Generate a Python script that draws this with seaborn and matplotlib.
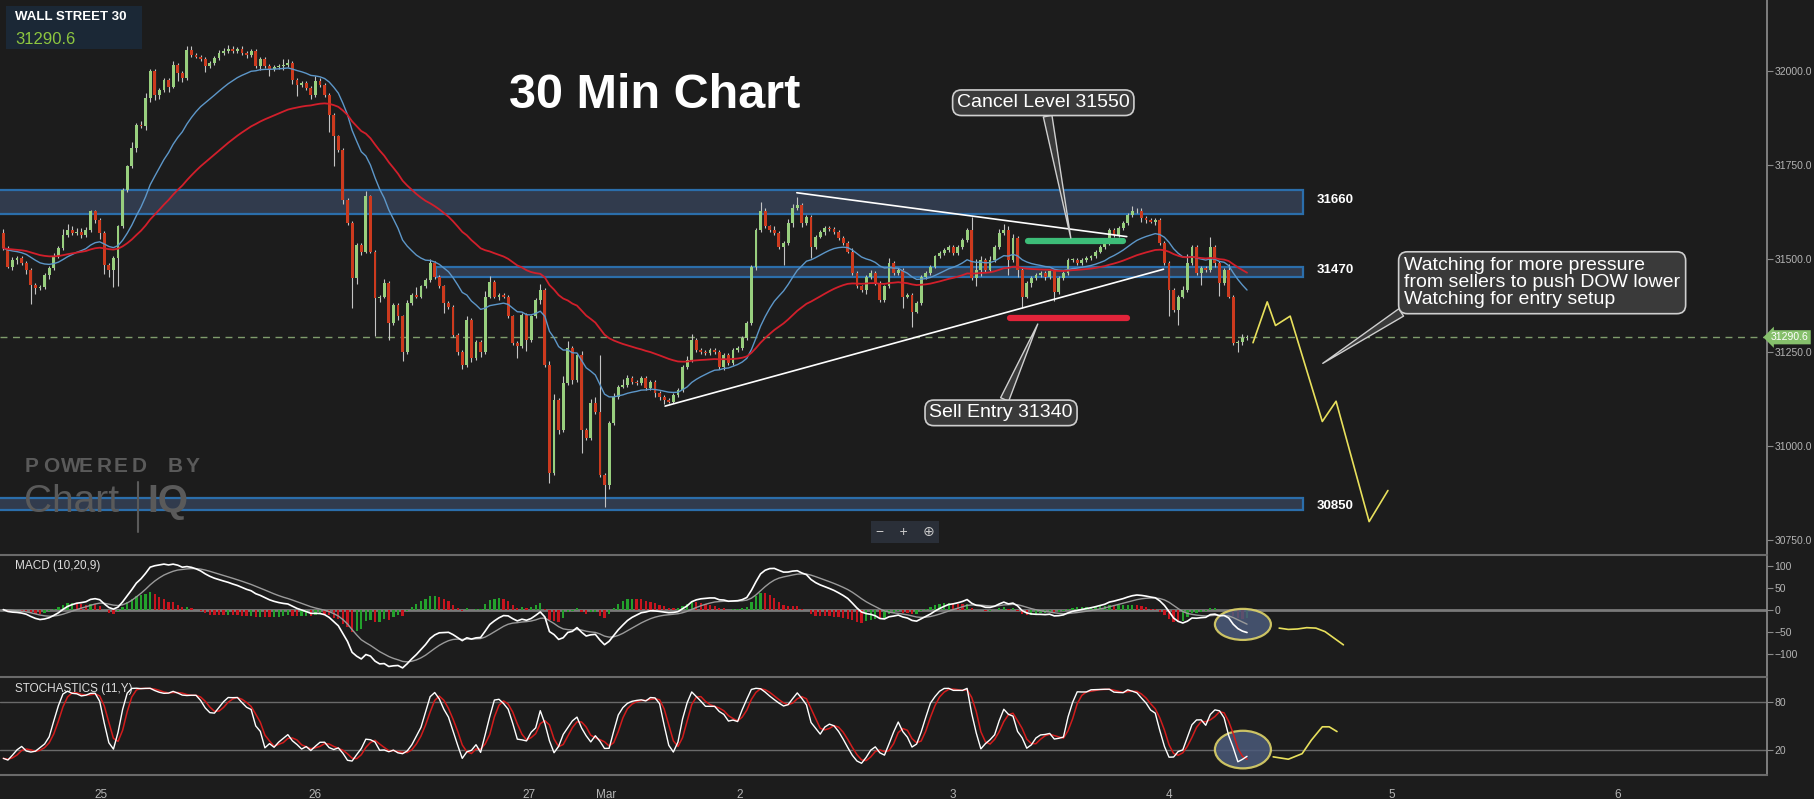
import numpy as np
import pandas as pd
import matplotlib
matplotlib.use("Agg")
import matplotlib.pyplot as plt
from matplotlib.patches import Rectangle, Ellipse
from matplotlib.transforms import blended_transform_factory
import seaborn as sns

# ---- data: Wall Street 30, 30 min bars ----
first_open = 31568
closes = [
    31528, 31479, 31497, 31501, 31488, 31470, 31430, 31421, 31424, 31457, 31475, 31506, 31528, 31564, 31577, 31568, 31572, 31564, 31577, 31626,
    31604, 31568, 31484, 31470, 31501, 31586, 31684, 31746, 31795, 31857, 31853, 31928, 32000, 31937, 31950, 31977, 31959, 32017, 31995, 31982,
    32057, 32044, 32039, 32032, 32013, 32022, 32035, 32048, 32053, 32059, 32053, 32059, 32048, 32044, 32053, 32013, 32032, 32013, 32006, 32011,
    32014, 32017, 32022, 31977, 31964, 31968, 31955, 31937, 31973, 31964, 31937, 31884, 31826, 31790, 31657, 31595, 31448, 31537, 31519, 31666,
    31519, 31395, 31399, 31435, 31328, 31377, 31346, 31252, 31381, 31404, 31399, 31426, 31443, 31488, 31452, 31426, 31381, 31372, 31297, 31252,
    31217, 31337, 31235, 31279, 31252, 31399, 31439, 31399, 31404, 31399, 31346, 31275, 31266, 31350, 31284, 31346, 31390, 31417, 31217, 30928,
    31123, 31043, 31168, 31261, 31177, 31243, 31043, 31021, 31115, 31092, 30923, 30897, 31061, 31132, 31159, 31163, 31181, 31172, 31168, 31181,
    31155, 31172, 31141, 31132, 31123, 31119, 31137, 31150, 31212, 31230, 31284, 31257, 31252, 31248, 31257, 31252, 31212, 31243, 31221, 31257,
    31261, 31288, 31328, 31479, 31577, 31626, 31586, 31577, 31568, 31532, 31541, 31595, 31635, 31644, 31595, 31612, 31532, 31559, 31572, 31581,
    31579, 31572, 31555, 31541, 31519, 31461, 31426, 31417, 31452, 31461, 31435, 31390, 31426, 31488, 31461, 31470, 31399, 31404, 31359, 31381,
    31452, 31461, 31479, 31506, 31515, 31524, 31532, 31515, 31532, 31550, 31577, 31448, 31470, 31497, 31470, 31497, 31532, 31568, 31577, 31497,
    31555, 31470, 31399, 31435, 31448, 31457, 31461, 31452, 31466, 31412, 31448, 31461, 31497, 31497, 31488, 31497, 31501, 31506, 31519, 31532,
    31541, 31577, 31564, 31581, 31595, 31617, 31626, 31626, 31608, 31604, 31599, 31604, 31541, 31488, 31417, 31363, 31399, 31417, 31488, 31532,
    31461, 31475, 31470, 31532, 31488, 31435, 31470, 31399, 31275, 31279, 31288, 31290.6,
]
# wick lengths (points above body top / below body bottom)
wick_up = [
    10, 5, 8, 5, 5, 5, 5, 5, 5, 5, 5, 10, 5, 15, 15, 10, 10, 10, 8, 5,
    5, 5, 5, 5, 5, 5, 5, 5, 15, 5, 10, 15, 5, 5, 5, 5, 5, 10, 5, 5,
    10, 10, 5, 5, 5, 5, 5, 8, 10, 10, 8, 5, 8, 5, 5, 5, 5, 5, 5, 5,
    5, 15, 10, 5, 5, 5, 5, 5, 15, 10, 5, 5, 5, 5, 5, 5, 5, 5, 5, 15,
    5, 5, 5, 10, 5, 5, 5, 5, 10, 5, 20, 5, 5, 10, 5, 5, 5, 5, 5, 5,
    5, 10, 5, 5, 5, 15, 15, 5, 5, 5, 5, 5, 5, 5, 5, 5, 5, 15, 5, 10,
    15, 5, 20, 20, 5, 5, 10, 5, 10, 15, 150, 5, 5, 10, 5, 15, 10, 5, 5, 5,
    5, 5, 5, 5, 5, 5, 5, 5, 5, 10, 15, 5, 5, 5, 5, 5, 5, 5, 5, 5,
    5, 5, 5, 5, 5, 25, 10, 5, 10, 5, 5, 10, 10, 20, 5, 5, 5, 5, 5, 5,
    5, 5, 5, 5, 5, 10, 5, 5, 5, 10, 5, 5, 5, 15, 5, 5, 5, 5, 5, 5,
    5, 5, 5, 5, 5, 5, 5, 5, 5, 5, 5, 35, 30, 10, 5, 10, 5, 10, 15, 10,
    10, 5, 5, 5, 5, 5, 5, 5, 5, 5, 5, 5, 5, 5, 5, 5, 5, 5, 5, 5,
    5, 5, 5, 5, 5, 5, 15, 10, 10, 5, 5, 5, 5, 5, 5, 5, 5, 10, 25, 5,
    5, 5, 5, 25, 5, 5, 5, 15, 5, 5, 10, 5,
]
wick_dn = [
    5, 5, 10, 10, 5, 10, 50, 15, 5, 5, 10, 5, 5, 5, 5, 5, 5, 10, 5, 5,
    10, 15, 25, 20, 45, 75, 5, 5, 5, 10, 5, 10, 10, 15, 10, 5, 15, 5, 20, 10,
    5, 5, 5, 5, 15, 5, 5, 5, 5, 5, 5, 5, 5, 10, 5, 5, 10, 5, 20, 5,
    5, 10, 5, 10, 30, 5, 5, 10, 5, 5, 5, 45, 80, 5, 10, 5, 80, 15, 10, 5,
    5, 100, 10, 5, 45, 5, 10, 25, 5, 5, 5, 5, 5, 5, 5, 5, 25, 5, 5, 10,
    10, 5, 10, 5, 15, 5, 5, 5, 10, 5, 5, 5, 30, 5, 30, 5, 5, 10, 5, 25,
    5, 10, 5, 5, 10, 5, 60, 5, 5, 5, 5, 60, 10, 5, 5, 5, 5, 5, 5, 5,
    5, 5, 10, 10, 10, 5, 5, 5, 5, 5, 5, 5, 5, 5, 5, 5, 5, 10, 5, 5,
    5, 5, 5, 5, 10, 5, 5, 5, 5, 5, 50, 5, 10, 5, 10, 5, 30, 5, 5, 10,
    5, 5, 5, 5, 5, 5, 5, 5, 10, 5, 5, 5, 5, 5, 5, 5, 30, 5, 40, 5,
    5, 5, 5, 5, 5, 5, 5, 5, 5, 5, 5, 5, 20, 15, 5, 5, 5, 5, 5, 40,
    5, 20, 30, 5, 10, 5, 5, 10, 5, 25, 5, 5, 5, 5, 5, 5, 5, 5, 5, 5,
    5, 5, 5, 5, 5, 5, 5, 5, 10, 10, 5, 10, 5, 5, 70, 5, 40, 5, 5, 5,
    5, 30, 5, 5, 10, 35, 5, 5, 5, 25, 10, 5,
]
last_price = 31290.6

date_labels = ["25", "26", "27", "Mar", "2", "3", "4", "5", "6"]
date_pos = [21.2, 67.9, 114.6, 131.3, 160.5, 206.8, 254.0, 302.6, 351.7]

zone_lo = [31620, 31452, 30830]
zone_hi = [31684, 31479, 30861]
zone_start = [-5, 94.3, -5]
zone_end = 283.2
zone_labels = ["31660", "31470", "30850"]
zone_label_y = [31657, 31470, 30840]

tri_upper_x, tri_upper_y = [172.9, 244.8], [31676, 31559]
tri_lower_x, tri_lower_y = [144.2, 252.8], [31107, 31472]
cancel_x, cancel_level = [223.3, 244.0], 31547
sell_x, sell_level = [219.4, 244.9], 31342

proj_x = [272.3, 275.4, 277.2, 280.4, 287.4, 290.4, 297.6, 301.7]
proj_y = [31276, 31385, 31322, 31347, 31066, 31120, 30799, 30882]
macd_proj_x = [278, 280, 282, 284, 286, 288, 290, 292]
macd_proj_y = [-42, -45, -44, -41, -42, -50, -65, -80]
stoch_proj_x = [276.7, 280, 283, 285, 287.4, 288.9, 290.6]
stoch_proj_y = [11, 8, 15, 32, 49, 49, 43]

# ---- derived series ----
c = pd.Series(closes, dtype=float)
o = pd.Series([first_open] + closes[:-1], dtype=float)
hi = np.maximum(o, c) + np.array(wick_up)
lo = np.minimum(o, c) - np.array(wick_dn)
x = np.arange(len(c))

ema_fast = c.ewm(span=20, adjust=False).mean()
ema_slow = c.ewm(span=50, adjust=False).mean()
macd = c.ewm(span=10, adjust=False).mean() - c.ewm(span=20, adjust=False).mean()
signal = macd.ewm(span=9, adjust=False).mean()
hist = macd - signal
ll = lo.rolling(11, min_periods=1).min()
hh = hi.rolling(11, min_periods=1).max()
raw_k = 100 * (c - ll) / (hh - ll)
stoch_k = raw_k.rolling(3, min_periods=1).mean()
stoch_d = stoch_k.rolling(3, min_periods=1).mean()

# ---- style ----
bg = "#1c1c1c"
grey_txt = "#b4b4b4"
sns.set_theme(style="dark", rc={"axes.facecolor": bg, "figure.facecolor": bg,
                                "axes.grid": False, "savefig.facecolor": bg})
plt.rcParams["font.family"] = ["Liberation Sans", "DejaVu Sans"]

fig = plt.figure(figsize=(18.14, 7.99), dpi=100)
ax = fig.add_axes([0, 0.3054, 0.9741, 0.6946])
ax_m = fig.add_axes([0, 0.1527, 0.9741, 0.1527], sharex=ax)
ax_s = fig.add_axes([0, 0.0300, 0.9741, 0.1227], sharex=ax)

for a in (ax, ax_m, ax_s):
    for s in a.spines.values():
        s.set_visible(False)
    a.spines["right"].set_visible(True)
    a.spines["right"].set_color("#8a8a8a")
    a.yaxis.tick_right()
    a.tick_params(axis="y", colors="#8a8a8a", labelcolor=grey_txt, labelsize=7.5,
                  direction="out", length=4, width=0.8, pad=1.5, left=False, right=True)
    a.tick_params(axis="x", bottom=False, labelbottom=False)
for a in (ax_m, ax_s):
    a.spines["top"].set_visible(True)
    a.spines["top"].set_color("#6a6a6a")
    a.spines["top"].set_linewidth(1.5)
ax_s.spines["bottom"].set_visible(True)
ax_s.spines["bottom"].set_color("#6a6a6a")
ax_s.spines["bottom"].set_linewidth(1.5)

ax.set_xlim(-0.72, 384.3)
ax.set_ylim(30710, 32190)
ax.set_yticks([30750, 31000, 31250, 31500, 31750, 32000])
ax.set_yticklabels([f"{v:.1f}" for v in [30750, 31000, 31250, 31500, 31750, 32000]])

# ---- main panel ----
for lo_, hi_, xs, lab, ly in zip(zone_lo, zone_hi, zone_start, zone_labels, zone_label_y):
    ax.add_patch(Rectangle((xs, lo_), zone_end - xs, hi_ - lo_, facecolor="#313b4d",
                           edgecolor="#2b6eab", linewidth=1.6, zorder=1))
    ax.text(zone_end + 3.0, ly, lab, color="white", fontsize=9.5, fontweight="bold",
            va="center", ha="left")

ax.axhline(last_price, color="#7f9c6c", lw=1, ls=(0, (5, 4)), zorder=1.5)

green, red = "#98cf7e", "#cc3a1e"
up = (c >= o).values
ax.vlines(x, lo, hi, color="#c4c4c4", lw=0.8, zorder=2)
ax.bar(x, np.maximum(np.abs(c - o), 2.5), bottom=np.minimum(o, c), width=0.62,
       color=np.where(up, green, red), linewidth=0, zorder=3)

sns.lineplot(x=x, y=ema_fast.values, ax=ax, color="#5d97c9", linewidth=1.0, zorder=4)
sns.lineplot(x=x, y=ema_slow.values, ax=ax, color="#d21f2b", linewidth=1.3, zorder=4)

sns.lineplot(x=tri_upper_x, y=tri_upper_y, ax=ax, color="white", linewidth=1.2, zorder=5)
sns.lineplot(x=tri_lower_x, y=tri_lower_y, ax=ax, color="white", linewidth=1.2, zorder=5)
ax.plot(cancel_x, [cancel_level] * 2, color="#3dbd78", lw=4.5, solid_capstyle="round", zorder=5)
ax.plot(sell_x, [sell_level] * 2, color="#e2243a", lw=4.5, solid_capstyle="round", zorder=5)
sns.lineplot(x=proj_x, y=proj_y, ax=ax, color="#e8e05c", linewidth=1.2, sort=False, zorder=5)

box = dict(boxstyle="round,pad=0.22,rounding_size=0.45", fc="#3a3a3a", ec="#cfcfcf", lw=1.2)
wedge = dict(arrowstyle="wedge,tail_width=0.45", fc="#3a3a3a", ec="#cfcfcf", lw=1.0,
             shrinkA=0, shrinkB=0)
ax.annotate("Cancel Level 31550", xy=(232.6, 31555), xytext=(226.6, 31916),
            ha="center", va="center", fontsize=14, color="white", bbox=box,
            arrowprops=dict(wedge, relpos=(0.52, 0.0)), zorder=6)
ax.annotate("Sell Entry 31340", xy=(225.4, 31326), xytext=(217.4, 31089),
            ha="center", va="center", fontsize=14, color="white", bbox=box,
            arrowprops=dict(wedge, relpos=(0.51, 1.0)), zorder=6)
ax.annotate("Watching for more pressure\nfrom sellers to push DOW lower\nWatching for entry setup",
            xy=(287.5, 31221), xytext=(335.3, 31436), ha="center", va="center",
            multialignment="left", linespacing=1.0, fontsize=14, color="white",
            bbox=dict(box, boxstyle="round,pad=0.28,rounding_size=0.45"),
            arrowprops=dict(wedge, relpos=(0.03, 0.06)), zorder=6)

tr = blended_transform_factory(ax.transAxes, ax.transData)
ax.text(1.0022, last_price, "31290.6", transform=tr, color="white", fontsize=7.5,
        ha="left", va="center", clip_on=False, zorder=7,
        bbox=dict(boxstyle="larrow,pad=0.2", fc="#86c06c", ec="none"))

# ---- MACD panel ----
ax_m.set_ylim(-153, 124)
ax_m.set_yticks([100, 50, 0, -50, -100])
ax_m.axhline(0, color="#7a7a7a", lw=2, zorder=1)
hist_col = np.where(hist.diff().fillna(0).values >= 0, "#23a12c", "#c8141e")
ax_m.bar(x, hist.values, width=0.5, color=hist_col, linewidth=0, zorder=2)
ax_m.add_patch(Ellipse((270.1, -33.6), 12.2, 70.5, facecolor="#4b5a7a", alpha=0.85,
                       edgecolor="#e8dc6a", lw=1.6, zorder=2.5))
sns.lineplot(x=x, y=signal.values, ax=ax_m, color="#9a9a9a", linewidth=1.0, zorder=3)
sns.lineplot(x=x, y=macd.values, ax=ax_m, color="white", linewidth=1.2, zorder=4)
sns.lineplot(x=macd_proj_x, y=macd_proj_y, ax=ax_m, color="#e8e05c", linewidth=1.2, zorder=4)
ax_m.text(0.0083, 0.91, "MACD (10,20,9)", transform=ax_m.transAxes, color="#dddddd",
          fontsize=8.5, va="center", ha="left")

# ---- Stochastics panel ----
ax_s.set_ylim(-12, 112)
ax_s.set_yticks([80, 20])
ax_s.axhline(80, color="#6a6a6a", lw=1, zorder=1)
ax_s.axhline(20, color="#6a6a6a", lw=1, zorder=1)
ax_s.add_patch(Ellipse((270.1, 20.2), 12.2, 47.6, facecolor="#4b5a7a", alpha=0.85,
                       edgecolor="#e8dc6a", lw=1.6, zorder=2.5))
sns.lineplot(x=x, y=stoch_d.values, ax=ax_s, color="#d21c1c", linewidth=1.1, zorder=3)
sns.lineplot(x=x, y=stoch_k.values, ax=ax_s, color="white", linewidth=1.0, zorder=4)
sns.lineplot(x=stoch_proj_x, y=stoch_proj_y, ax=ax_s, color="#e8e05c", linewidth=1.2, zorder=4)
ax_s.text(0.0083, 0.88, "STOCHASTICS (11,Y)", transform=ax_s.transAxes, color="#dddddd",
          fontsize=8.5, va="center", ha="left")

ax_s.set_xticks(date_pos)
ax_s.set_xticklabels(date_labels)
ax_s.tick_params(axis="x", bottom=False, labelbottom=True, labelcolor=grey_txt,
                 labelsize=8.5, pad=4)
for a in (ax, ax_m, ax_s):
    a.set_xlabel("")
    a.set_ylabel("")

# ---- overlay texts ----
fig.text(655 / 1814, 1 - 95 / 799, "30 Min Chart", color="white", fontsize=35,
         fontweight="bold", ha="center", va="center")
fig.patches.append(Rectangle((6 / 1814, 1 - 49 / 799), 136 / 1814, 43 / 799,
                             transform=fig.transFigure, facecolor="#1b2836",
                             edgecolor="none", zorder=0))
fig.text(15 / 1814, 1 - 17 / 799, "WALL STREET 30", color="white", fontsize=9.5,
         fontweight="bold", va="center")
fig.text(15 / 1814, 1 - 39 / 799, "31290.6", color="#8dc63f", fontsize=12,
         va="center")

# watermark, letter-spaced like the original
for k, ch in enumerate("POWERED BY"):
    fig.text((25 + 17.8 * k) / 1814, 1 - 466 / 799, ch, color="#5a5a5a", fontsize=15,
             fontweight="bold", va="center", ha="left")
fig.text(24 / 1814, 1 - 502 / 799, "Chart", color="#5a5a5a", fontsize=28,
         fontweight="light", va="center", ha="left")
fig.text(147 / 1814, 1 - 502 / 799, "IQ", color="#5a5a5a", fontsize=28,
         fontweight="bold", va="center", ha="left")
fig.add_artist(plt.Line2D([138 / 1814, 138 / 1814], [1 - 532 / 799, 1 - 482 / 799],
                          transform=fig.transFigure, color="#5a5a5a", lw=1.5))

fig.text(905 / 1814, 1 - 532 / 799, "−    +    ⊕", color="#c8c8c8", fontsize=10,
         ha="center", va="center",
         bbox=dict(boxstyle="square,pad=0.3", fc="#2a2f38", ec="none"))

fig.savefig("out.png", dpi=100, facecolor=bg)
